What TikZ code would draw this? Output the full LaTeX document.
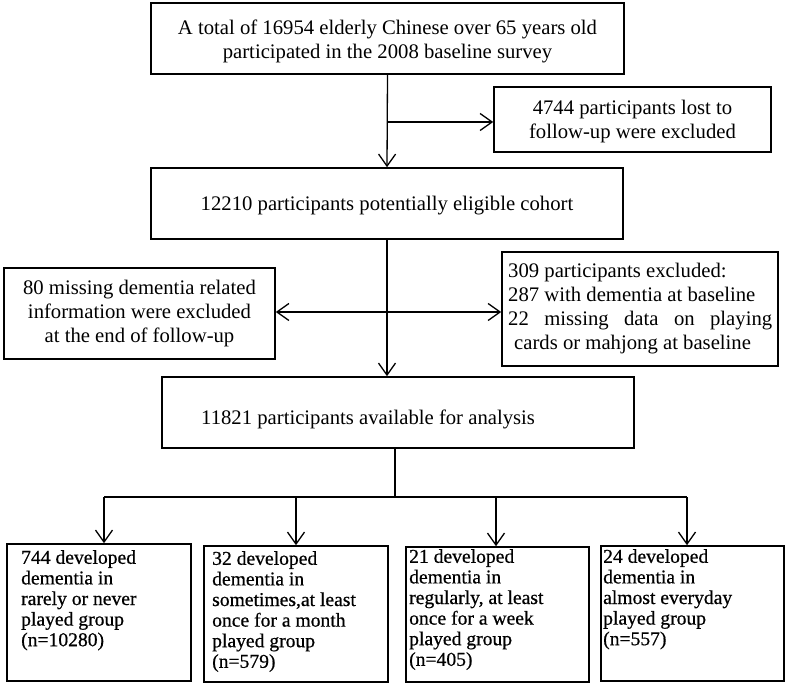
\documentclass[tikz,border=0pt]{standalone}
\usepackage{fontspec}
\setmainfont{Liberation Serif}
\newfontfamily\heavyserif[FakeBold=0.6]{Liberation Serif}
\usetikzlibrary{arrows.meta}
\begin{document}
\begin{tikzpicture}[x=1pt,y=-1pt,
  box/.style={draw, line width=1.6pt, inner sep=0pt},
  conn/.style={line width=1.3pt},
  arr/.style={conn, -{Straight Barb[length=12pt,width=17pt]}},
  both/.style={conn, {Straight Barb[length=12pt,width=17pt]}-{Straight Barb[length=12pt,width=17pt]}},
  toptxt/.style={font=\fontsize{20.7}{24}\selectfont, align=center, inner sep=0pt},
  bottxt/.style={font=\heavyserif\fontsize{19.6}{20.6}\selectfont, align=left, inner sep=0pt, anchor=north west}]
\useasboundingbox (0,0) rectangle (788,687);

% boxes
\node[box, minimum width=473pt, minimum height=71pt] (n1) at (387.5,38.5) {};
\node[box, minimum width=277pt, minimum height=65pt] (lost) at (632.5,119.5) {};
\node[box, minimum width=472pt, minimum height=71pt] (n2) at (387,203.5) {};
\node[box, minimum width=271pt, minimum height=91pt] (lbox) at (139.5,313.5) {};
\node[box, minimum width=276pt, minimum height=114pt] (rbox) at (640,309) {};
\node[box, minimum width=472pt, minimum height=71pt] (n3) at (398,412.5) {};
\node[box, minimum width=184pt, minimum height=137pt] (ga) at (99,612.5) {};
\node[box, minimum width=184pt, minimum height=136pt] (gb) at (296,614) {};
\node[box, minimum width=183pt, minimum height=135pt] (gc) at (497.5,614.5) {};
\node[box, minimum width=183pt, minimum height=135pt] (gd) at (692.5,613.5) {};

% texts
\node[toptxt] (t1) at (387.5,41) {A total of 16954 elderly Chinese over 65 years old\\participated in the 2008 baseline survey};
\node[toptxt] (tl) at (632.5,121.5) {4744 participants lost to\\follow-up were excluded};
\node[toptxt] (t2) at (387,206) {12210 participants potentially eligible cohort};
\node[toptxt] (tlb) at (139.5,314) {80 missing dementia related\\information were excluded\\at the end of follow-up};
\node[toptxt, align=left, anchor=west] (trb) at (508,309) {309 participants excluded:\\287 with dementia at baseline\\\makebox[264pt][s]{22 missing data on playing}\\\hspace*{6pt}cards or mahjong at baseline};
\node[toptxt, anchor=west] (t3) at (201,419) {11821 participants available for analysis};

\node[bottxt] (ta) at (21,550) {744 developed\\dementia in\\rarely or never\\played group\\(n=10280)};
\node[bottxt] (tb) at (212,551) {32 developed\\dementia in\\sometimes,at least\\once for a month\\played group\\(n=579)};
\node[bottxt] (tc) at (409,549) {21 developed\\dementia in\\regularly, at least\\once for a week\\played group\\(n=405)};
\node[bottxt] (td) at (603,549) {24 developed\\dementia in\\almost everyday\\played group\\(n=557)};

% connectors
\coordinate (b1) at (388,122);
\draw[arr] (n1.south) -- (n2.north);
\draw[arr] (b1) -- (b1 -| lost.west);
\draw[arr] (n2.south) -- (n2.south |- n3.north);
\coordinate (m1) at (389,312);
\draw[both] (m1 -| lbox.east) -- (m1 -| rbox.west);

\coordinate (j) at (395,497);
\coordinate (ja) at (104,497);
\coordinate (jb) at (296,497);
\coordinate (jc) at (496,497);
\coordinate (jd) at (687,497);
\draw[conn] (j |- n3.south) -- (j);
\draw[conn] (ja) -- (jd);
\draw[arr] (ja) -- (ja |- ga.north);
\draw[arr] (jb) -- (jb |- gb.north);
\draw[arr] (jc) -- (jc |- gc.north);
\draw[arr] (jd) -- (jd |- gd.north);
\end{tikzpicture}
\end{document}
